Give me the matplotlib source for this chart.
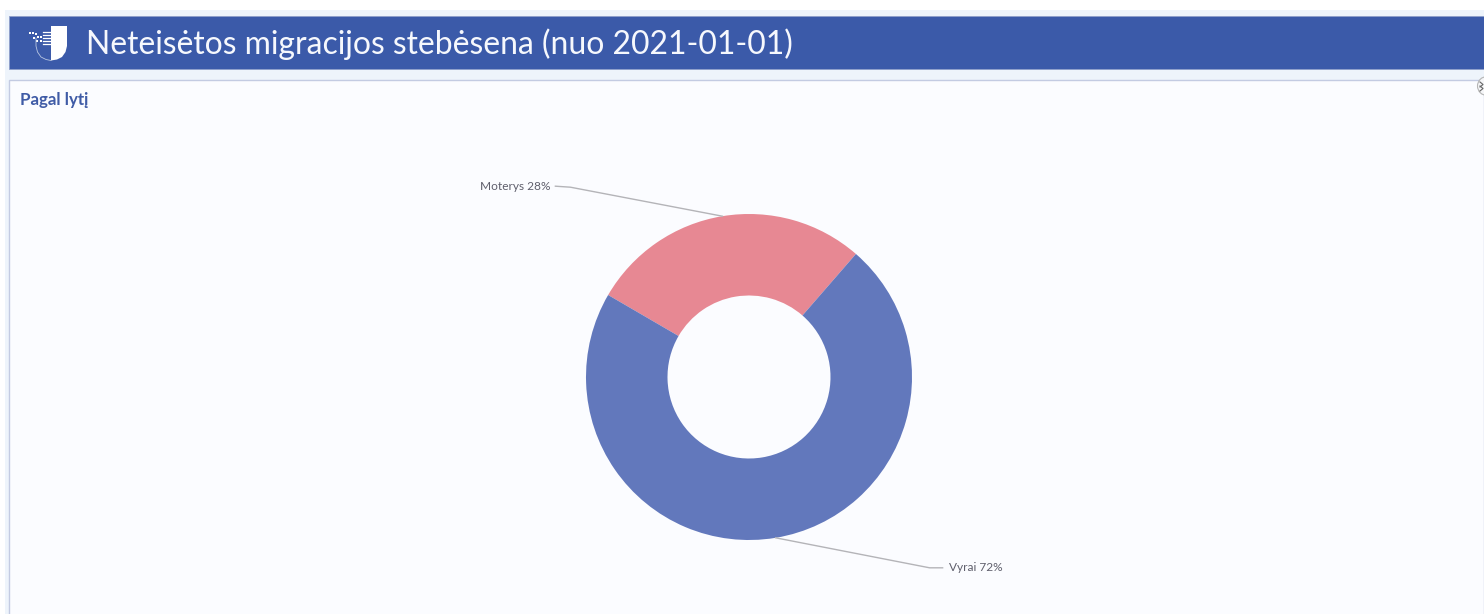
import numpy as np
import matplotlib.pyplot as plt
from matplotlib.patches import Rectangle, Circle, Polygon

plt.rcParams['font.family'] = ['Lato', 'DejaVu Sans']

# data
labels = ['Moterys', 'Vyrai']
shares = [28, 72]
colors = ['#e78893', '#6278bc']
title = 'Neteisėtos migracijos stebėsena (nuo 2021-01-01)'
panel_title = 'Pagal lytį'

fig = plt.figure(figsize=(14.84, 6.14), dpi=100, facecolor='white')

# page in pixel coordinates
bg = fig.add_axes([0, 0, 1, 1])
bg.set_xlim(0, 1484)
bg.set_ylim(614, 0)
bg.axis('off')

bg.add_patch(Rectangle((5, 10), 1479, 604, fc='#eef4fb', ec='none'))
bg.add_patch(Rectangle((9, 16), 1475, 53, fc='#3b5aa9', ec='#8f9fcb', lw=0.6))
bg.add_patch(Rectangle((9, 80), 1475, 540, fc='#fbfcff', ec='#c3cbe2', lw=1.0))
bg.text(86, 44, title, color='#f6f8fd', fontsize=22.95, va='center', ha='left')
bg.text(19.5, 100, panel_title, color='#3f5ba6', fontsize=12.2, fontweight='bold', va='center', ha='left')

# logo
shield = [(51, 26), (67, 26), (67, 46), (65.5, 52), (62, 57), (57, 59.5), (51, 60.5)]
bg.add_patch(Polygon(shield, fc='white', ec='none'))
bg.plot([36, 36, 37.5, 41, 46, 51], [38, 46, 52, 57, 59.5, 60.5], color='#b9c6e2', lw=0.6)
for x, y in [(29, 32), (32, 32), (35, 33), (33, 37), (37, 36), (40, 36), (36, 40), (40, 40)]:
    bg.add_patch(Rectangle((x, y), 2, 2, fc='white', ec='none'))
for y in [32, 35, 38, 41, 44]:
    bg.plot([43, 51], [y, y], color='white', lw=0.9)

# close button cut off at the right edge
bg.add_patch(Circle((1487, 86), 9.5, fc='#f5f6f8', ec='#b5b5b5', lw=0.8))
bg.plot([1480, 1483, 1480], [82, 84.5, 87], color='#666666', lw=0.8)
bg.plot([1480, 1483, 1480], [86, 88.5, 91], color='#666666', lw=0.8)

# donut
cx, cy, r = 749, 377, 163
ax = fig.add_axes([(cx - r) / 1484, (614 - cy - r) / 614, 2 * r / 1484, 2 * r / 614])
ax.patch.set_alpha(0)
wedges, _ = ax.pie(shares, colors=colors, startangle=49, radius=1, counterclock=True,
                   wedgeprops={'width': 0.5, 'edgecolor': 'none'})
ax.set_xlim(-1, 1)
ax.set_ylim(-1, 1)

# leader lines, offsets in pixels from the slice edge
offsets = [((-152, -29), (-167, -30)), ((154, 30), (167, 30))]
for w, label, share, (mid_off, end_off) in zip(wedges, labels, shares, offsets):
    a = np.radians((w.theta1 + w.theta2) / 2)
    x0, y0 = np.cos(a), np.sin(a)
    xs = [x0, x0 + mid_off[0] / r, x0 + end_off[0] / r]
    ys = [y0, y0 - mid_off[1] / r, y0 - end_off[1] / r]
    ax.plot(xs, ys, color='#b4b4b8', lw=1.0, clip_on=False)
    side = 'right' if end_off[0] < 0 else 'left'
    pad = -5 / r if end_off[0] < 0 else 6 / r
    ax.text(xs[-1] + pad, ys[-1], f'{label} {share}%', color='#5f5f6c', fontsize=8.6,
            va='center', ha=side, clip_on=False)

fig.savefig('out.png', dpi=100)
